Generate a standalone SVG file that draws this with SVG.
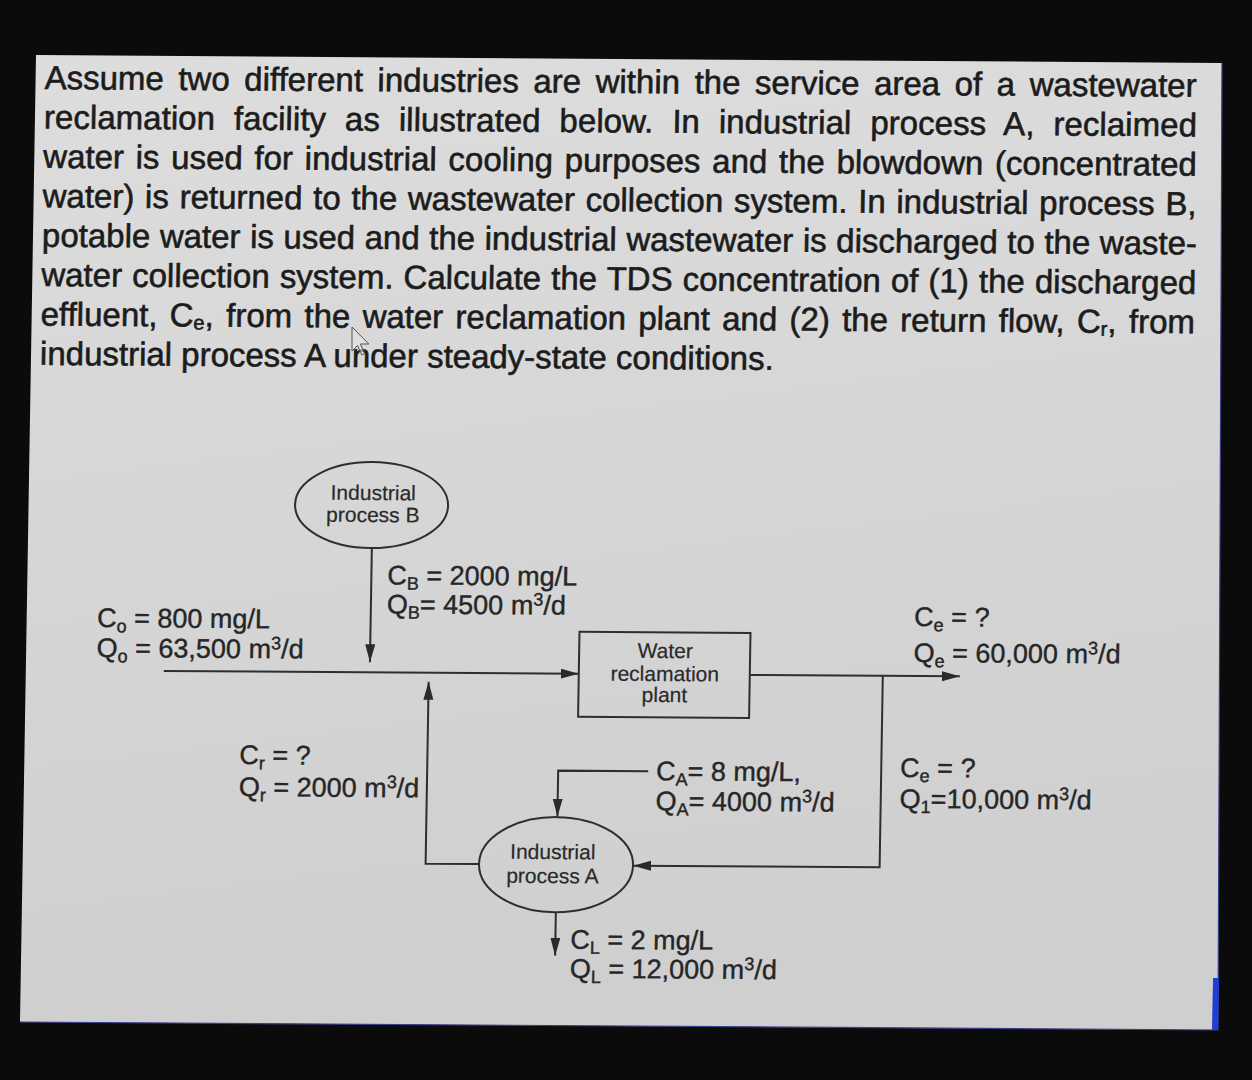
<svg xmlns="http://www.w3.org/2000/svg" width="1252" height="1080" viewBox="0 0 1252 1080">
  <defs>
    <linearGradient id="panelGrad" x1="0" y1="0" x2="0.15" y2="1">
      <stop offset="0" stop-color="#dddddd"/>
      <stop offset="1" stop-color="#cfcfd0"/>
    </linearGradient>
    <marker id="arrow" markerUnits="userSpaceOnUse" markerWidth="20" markerHeight="12" refX="18" refY="5" orient="auto">
      <path d="M0,0 L18,5 L0,10 z" fill="#2a2a2a"/>
    </marker>
    <style>
      .para { font-family: "Liberation Sans", Arial, Helvetica, sans-serif; font-size: 33px; fill: #1c1c1c; stroke: #1c1c1c; stroke-width: 0.6px; }
      .lbl { font-family: "Liberation Sans", Arial, Helvetica, sans-serif; font-size: 27px; fill: #262626; stroke: #262626; stroke-width: 0.4px; }
      .node-text { font-family: "Liberation Sans", Arial, Helvetica, sans-serif; font-size: 21px; fill: #2a2a2a; stroke: #2a2a2a; stroke-width: 0.2px; text-anchor: middle; }
      .sub { font-size: 18px; }
      .psub { font-size: 20px; }
      .line { fill: none; stroke: #2e2e2e; stroke-width: 2; }
      .shape { fill: none; stroke: #2e2e2e; stroke-width: 2; }
    </style>
  </defs>

  <!-- screen background -->
  <rect x="0" y="0" width="1252" height="1080" fill="#0b0b0b"/>
  <!-- panel -->
  <polygon points="36,55 1222,63 1218,1030 20,1022" fill="url(#panelGrad)"/>
  <polyline points="1222,63 1218,1030 20,1022" fill="none" stroke="#3a3f8a" stroke-width="1.2"/>
  <polygon points="1213,978 1219,978 1218,1030 1212,1030" fill="#1f3fd0"/>

  <g transform="matrix(1,0.0068,-0.0166,1,0.913,-0.245)">
    <g id="question">
      <text class="para" x="45" y="89" style="word-spacing:5.35px" textLength="1152" lengthAdjust="spacing">Assume two different industries are within the service area of a wastewater</text>
      <text class="para" x="45" y="128.4" style="word-spacing:9.7px" textLength="1153" lengthAdjust="spacing">reclamation facility as illustrated below. In industrial process A, reclaimed</text>
      <text class="para" x="45" y="167.8" style="word-spacing:2.55px" textLength="1153.5" lengthAdjust="spacing">water is used for industrial cooling purposes and the blowdown (concentrated</text>
      <text class="para" x="45" y="207.2" style="word-spacing:1.5px" textLength="1154" lengthAdjust="spacing">water) is returned to the wastewater collection system. In industrial process B,</text>
      <text class="para" x="45" y="246.6" style="word-spacing:0.4px" textLength="1155" lengthAdjust="spacing">potable water is used and the industrial wastewater is discharged to the waste-</text>
      <text class="para" x="45" y="286" style="word-spacing:0.9px" textLength="1155" lengthAdjust="spacing">water collection system. Calculate the TDS concentration of (1) the discharged</text>
      <text class="para" x="45" y="325.4" style="word-spacing:3.1px">effluent, C<tspan class="psub" dy="3">e</tspan><tspan dy="-3">, from the water reclamation plant and (2) the return flow, C</tspan><tspan class="psub" dy="3">r</tspan><tspan dy="-3">, from</tspan></text>
      <text class="para" x="45" y="364.8">industrial process A under steady-state conditions.</text>
    </g>

    <g id="connectors">
      <path class="line" d="M174,670 H589" marker-end="url(#arrow)"/>
      <path class="line" d="M380,545.7 V660" marker-end="url(#arrow)"/>
      <path class="line" d="M760,670 H970" marker-end="url(#arrow)"/>
      <path class="line" d="M893,670 V861.5 H646.5" marker-end="url(#arrow)"/>
      <path class="line" d="M660,767 H570 V813" marker-end="url(#arrow)"/>
      <path class="line" d="M570,908.5 V952" marker-end="url(#arrow)"/>
      <path class="line" d="M492.4,861 H439 V679" marker-end="url(#arrow)"/>
    </g>

    <g id="node-industrial-b">
      <ellipse class="shape" cx="379" cy="502.7" rx="76.5" ry="43"/>
      <text class="node-text" x="380.5" y="497.7">Industrial</text>
      <text class="node-text" x="380.5" y="519.7">process B</text>
    </g>

    <g id="node-water-reclamation-plant">
      <rect class="shape" x="589" y="628" width="171" height="85"/>
      <text class="node-text" x="675" y="653.7">Water</text>
      <text class="node-text" x="675" y="676.7">reclamation</text>
      <text class="node-text" x="675" y="697.7">plant</text>
    </g>

    <g id="node-industrial-a">
      <ellipse class="shape" cx="569.4" cy="861" rx="77" ry="47.5"/>
      <text class="node-text" x="566" y="855.5">Industrial</text>
      <text class="node-text" x="566" y="879.5">process A</text>
    </g>

    <g id="labels">
      <text class="lbl" x="106.5" y="626.6">C<tspan class="sub" dy="5">o</tspan><tspan dy="-5"> = 800 mg/L</tspan></text>
      <text class="lbl" x="106.5" y="656.6">Q<tspan class="sub" dy="5">o</tspan><tspan dy="-5"> = 63,500 m</tspan><tspan class="sub" dy="-9">3</tspan><tspan dy="9">/d</tspan></text>

      <text class="lbl" x="396" y="582">C<tspan class="sub" dy="5">B</tspan><tspan dy="-5"> = 2000 mg/L</tspan></text>
      <text class="lbl" x="396" y="611">Q<tspan class="sub" dy="5">B</tspan><tspan dy="-5">= 4500 m</tspan><tspan class="sub" dy="-9">3</tspan><tspan dy="9">/d</tspan></text>

      <text class="lbl" x="923.5" y="620">C<tspan class="sub" dy="5">e</tspan><tspan dy="-5"> = ?</tspan></text>
      <text class="lbl" x="923.5" y="656">Q<tspan class="sub" dy="5">e</tspan><tspan dy="-5"> = 60,000 m</tspan><tspan class="sub" dy="-9">3</tspan><tspan dy="9">/d</tspan></text>

      <text class="lbl" x="251" y="762.6">C<tspan class="sub" dy="5">r</tspan><tspan dy="-5"> = ?</tspan></text>
      <text class="lbl" x="251" y="794.6">Q<tspan class="sub" dy="5">r</tspan><tspan dy="-5"> = 2000 m</tspan><tspan class="sub" dy="-9">3</tspan><tspan dy="9">/d</tspan></text>

      <text class="lbl" x="668" y="776">C<tspan class="sub" dy="5">A</tspan><tspan dy="-5">= 8 mg/L,</tspan></text>
      <text class="lbl" x="668" y="806">Q<tspan class="sub" dy="5">A</tspan><tspan dy="-5">= 4000 m</tspan><tspan class="sub" dy="-9">3</tspan><tspan dy="9">/d</tspan></text>

      <text class="lbl" x="912" y="771">C<tspan class="sub" dy="5">e</tspan><tspan dy="-5"> = ?</tspan></text>
      <text class="lbl" x="912" y="802">Q<tspan class="sub" dy="5">1</tspan><tspan dy="-5">=10,000 m</tspan><tspan class="sub" dy="-9">3</tspan><tspan dy="9">/d</tspan></text>

      <text class="lbl" x="585" y="945">C<tspan class="sub" dy="5">L</tspan><tspan dy="-5"> = 2 mg/L</tspan></text>
      <text class="lbl" x="585" y="974">Q<tspan class="sub" dy="5">L</tspan><tspan dy="-5"> = 12,000 m</tspan><tspan class="sub" dy="-9">3</tspan><tspan dy="9">/d</tspan></text>
    </g>
  </g>

  <!-- mouse pointer visible in the photo -->
  <polygon points="352,327 352,351 357.6,345.5 361.8,355 364.6,353.6 360.4,344 368.8,344" fill="#e4e4e4" fill-opacity="0.6" stroke="#555" stroke-width="1"/>
</svg>
